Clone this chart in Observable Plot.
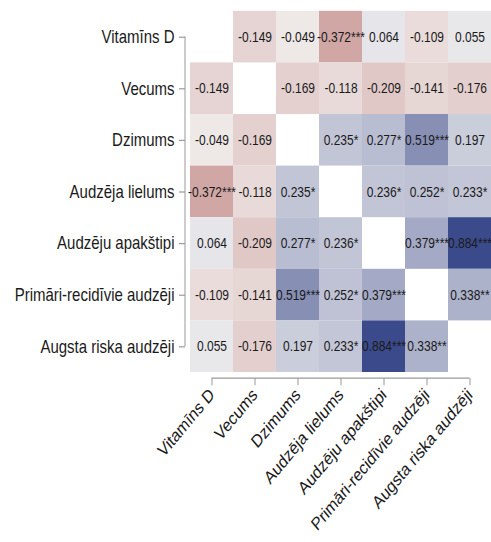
<!DOCTYPE html>
<html>
<head>
<meta charset="utf-8">
<script src="https://cdn.jsdelivr.net/npm/d3@7"></script>
<script src="https://cdn.jsdelivr.net/npm/@observablehq/plot@0.6"></script>
<style>
  html, body { margin: 0; padding: 0; background: #fff; }
</style>
</head>
<body>
<div id="chart"></div>
<script>
const variables = ["Vitamīns D", "Vecums", "Dzimums", "Audzēja lielums", "Audzēju apakštipi", "Primāri-recidīvie audzēji", "Augsta riska audzēji"];

// correlation matrix (symmetric), diagonal empty
const corrValues = [
  [null, -0.149, -0.049, -0.372, 0.064, -0.109, 0.055],
  [-0.149, null, -0.169, -0.118, -0.209, -0.141, -0.176],
  [-0.049, -0.169, null, 0.235, 0.277, 0.519, 0.197],
  [-0.372, -0.118, 0.235, null, 0.236, 0.252, 0.233],
  [0.064, -0.209, 0.277, 0.236, null, 0.379, 0.884],
  [-0.109, -0.141, 0.519, 0.252, 0.379, null, 0.338],
  [0.055, -0.176, 0.197, 0.233, 0.884, 0.338, null]
];
const sigStars = [
  ["", "", "", "***", "", "", ""],
  ["", "", "", "", "", "", ""],
  ["", "", "", "*", "*", "***", ""],
  ["***", "", "*", "", "*", "*", "*"],
  ["", "", "*", "*", "", "***", "***"],
  ["", "", "***", "*", "***", "", "**"],
  ["", "", "", "*", "***", "**", ""]
];

const cells = [];
variables.forEach((rowVar, i) => {
  variables.forEach((colVar, j) => {
    const v = corrValues[i][j];
    if (v === null) return;
    cells.push({row: rowVar, col: colVar, value: v, label: v.toFixed(3) + sigStars[i][j]});
  });
});

// The reference picture is stretched vertically (~1.2x); draw at a reduced height and stretch the SVG.
const W = 491, H = 542, stretch = 1.2;
const innerH = H / stretch;

// axis lines spanning only from first to last tick
function axisLines(index, scales, values, dimensions) {
  const {x, y} = scales;
  const n = variables.length;
  let x0 = x(variables[0]), x1 = x(variables[1]);
  let bwx = x1 - x0;
  if (Math.abs(x0 - dimensions.marginLeft) < 1) x0 += bwx / 2;
  const xLast = x0 + bwx * (n - 1);
  let y0 = y(variables[0]), y1 = y(variables[1]);
  let bwy = y1 - y0;
  if (Math.abs(y0 - dimensions.marginTop) < 1) y0 += bwy / 2;
  const yLast = y0 + bwy * (n - 1);
  const g = d3.create("svg:g").attr("stroke", "#9a9a9a").attr("fill", "none").attr("stroke-width", 1);
  const axisYX = dimensions.marginLeft - 5;
  const axisXY = dimensions.height - dimensions.marginBottom + 4.2;
  g.append("line").attr("x1", axisYX).attr("x2", axisYX).attr("y1", y0).attr("y2", yLast);
  g.append("line").attr("y1", axisXY).attr("y2", axisXY).attr("x1", x0).attr("x2", xLast);
  return g.node();
}

const font = "'Liberation Sans', Arial, Helvetica, sans-serif";

const chart = Plot.plot({
  width: W,
  height: innerH,
  marginLeft: 190,
  marginRight: 0,
  marginTop: 10.7 / stretch,
  marginBottom: 169 / stretch,
  style: {fontFamily: font, fontSize: "15px", background: "#fff", color: "#1a1a1a"},
  x: {domain: variables, padding: 0, axis: null, label: null},
  y: {domain: variables, padding: 0, axis: null, label: null},
  color: {type: "linear", domain: [-1, 0, 1], range: ["#962925", "#F3F2F1", "#22347E"], interpolate: "rgb"},
  marks: [
    Plot.cell(cells, {x: "col", y: "row", fill: "value", inset: 0}),
    Plot.text(cells, {x: "col", y: "row", text: "label", fontSize: 12, fill: "#1a1a1a"}),
    Plot.axisY({anchor: "left", label: null, dx: -5, tickSize: 6, tickPadding: 5, stroke: "#9a9a9a", fill: "#1a1a1a", fontSize: 15}),
    Plot.axisX({anchor: "bottom", label: null, dy: 4.2, tickSize: 6, tickPadding: 5, tickRotate: -45, stroke: "#9a9a9a", fill: "#1a1a1a", fontSize: 15}),
    axisLines
  ]
});

chart.setAttribute("height", H);
chart.setAttribute("preserveAspectRatio", "none");
chart.style.width = W + "px";
chart.style.height = H + "px";
chart.style.maxWidth = "none";
chart.style.display = "block";

document.getElementById("chart").appendChild(chart);
</script>
</body>
</html>
